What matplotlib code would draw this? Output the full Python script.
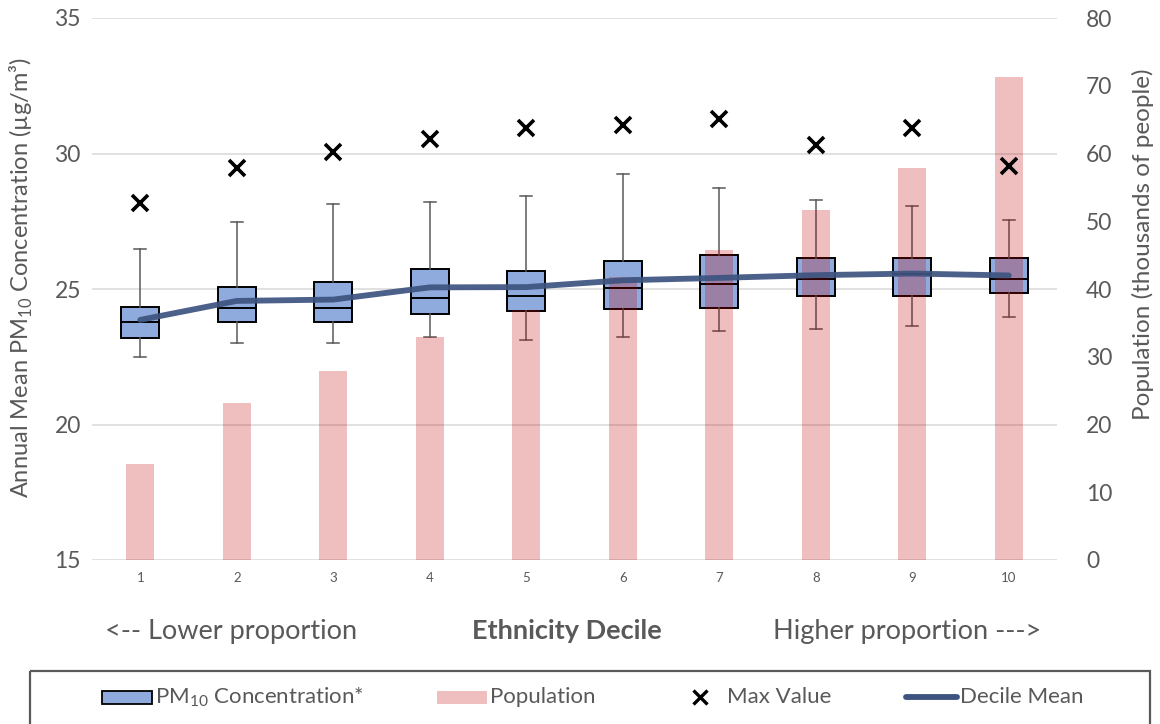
import numpy as np
import matplotlib

matplotlib.use("Agg")
import matplotlib.pyplot as plt
from matplotlib.patches import Rectangle
from matplotlib.lines import Line2D

plt.rcParams["font.family"] = ["Lato", "DejaVu Sans"]
plt.rcParams["mathtext.fontset"] = "custom"
plt.rcParams["mathtext.rm"] = "Lato"

# ---- data ----
deciles = [1, 2, 3, 4, 5, 6, 7, 8, 9, 10]
q1 = [23.20, 23.77, 23.77, 24.07, 24.17, 24.26, 24.31, 24.74, 24.74, 24.85]
median = [23.77, 24.30, 24.30, 24.65, 24.75, 25.04, 25.17, 25.36, 25.54, 25.36]
q3 = [24.35, 25.07, 25.27, 25.72, 25.67, 26.04, 26.25, 26.14, 26.14, 26.14]
whisker_lo = [22.48, 23.00, 23.00, 23.23, 23.13, 23.23, 23.44, 23.54, 23.65, 23.96]
whisker_hi = [26.48, 27.46, 28.14, 28.21, 28.43, 29.25, 28.73, 28.28, 28.07, 27.54]
max_value = [28.16, 29.45, 30.06, 30.53, 30.93, 31.06, 31.26, 30.32, 30.94, 29.54]
decile_mean = [23.86, 24.56, 24.61, 25.06, 25.07, 25.32, 25.41, 25.51, 25.57, 25.50]
population = [14.2, 23.1, 27.9, 32.9, 36.9, 41.8, 45.8, 51.6, 57.9, 71.3]  # thousands

GREY = "#595959"
BOX_BLUE = "#8FAADC"
BAR_RED = "#C00000"
LINE_BLUE = "#3D5380"

fig = plt.figure(figsize=(11.6, 7.24), dpi=100)
ax = fig.add_axes([92 / 1160, 1 - 560 / 724, (1057 - 92) / 1160, (560 - 18) / 724])

# boxes (left scale)
stats = [dict(med=m, q1=a, q3=b, whislo=lo, whishi=hi, fliers=[])
         for m, a, b, lo, hi in zip(median, q1, q3, whisker_lo, whisker_hi)]
ax.bxp(stats, positions=deciles, widths=0.39, capwidths=0.12, patch_artist=True,
       showfliers=False,
       boxprops=dict(facecolor=BOX_BLUE, edgecolor="black", linewidth=1.4),
       medianprops=dict(color="black", linewidth=1.4),
       whiskerprops=dict(color=GREY, linewidth=1.1),
       capprops=dict(color=GREY, linewidth=1.1))
ax.set_xlim(0.5, 10.5)
ax.set_ylim(15, 35)
ax.set_yticks([15, 20, 25, 30, 35])
ax.grid(True, axis="y", color="#D9D9D9", linewidth=1.1)
ax.set_axisbelow(True)
for s in ax.spines.values():
    s.set_visible(False)
ax.tick_params(axis="both", length=0, colors=GREY)
ax.tick_params(axis="y", labelsize=16.5, pad=8)
ax.tick_params(axis="x", labelsize=9.5, pad=9)
ax.set_xticks(deciles)
ax.set_xticklabels([str(d) for d in deciles])
ax.set_ylabel(r"Annual Mean PM$_{\mathregular{10}}$ Concentration (µg/m³)",
              fontsize=17, color=GREY)
ax.yaxis.set_label_coords(-0.059, 0.52)

# population bars (right scale), drawn over the boxes
ax2 = ax.twinx()
ax2.bar(deciles, population, width=0.29, color=BAR_RED, alpha=0.25, linewidth=0)
ax2.set_ylim(0, 80)
ax2.set_yticks(range(0, 81, 10))
for s in ax2.spines.values():
    s.set_visible(False)
ax2.tick_params(axis="y", length=0, colors=GREY, labelsize=16.5, pad=21)
ax2.set_ylabel("Population (thousands of people)", fontsize=17.5, color=GREY)
ax2.yaxis.set_label_coords(1.078, 0.583)

# mean line and max markers on top
ax3 = ax.twinx()
ax3.set_ylim(15, 35)
ax3.axis("off")
ax3.plot(deciles, decile_mean, color=LINE_BLUE, linewidth=4.2, alpha=0.92,
         solid_capstyle="round", solid_joinstyle="round")
ax3.plot(deciles, max_value, linestyle="none", marker="x", color="black",
         markersize=11, markeredgewidth=2.6)

# axis caption row
fig.text(231 / 1160, 1 - 631 / 724, "<-- Lower proportion", fontsize=19.5,
         color=GREY, ha="center", va="center")
fig.text(567 / 1160, 1 - 631 / 724, "Ethnicity Decile", fontsize=19.5,
         color=GREY, ha="center", va="center", fontweight="bold")
fig.text(907 / 1160, 1 - 631 / 724, "Higher proportion --->", fontsize=19.5,
         color=GREY, ha="center", va="center")

# legend strip (pixel coordinates)
lg = fig.add_axes([0, 0, 1, 54 / 724])
lg.set_xlim(0, 1160)
lg.set_ylim(54, 0)
lg.axis("off")
lg.add_patch(Rectangle((30, 1), 1120, 80, fill=False, edgecolor=GREY,
                       linewidth=1.6, clip_on=False))
ly = 27
fs = 16
lg.add_patch(Rectangle((102, ly - 6), 50, 13, facecolor=BOX_BLUE,
                       edgecolor="black", linewidth=1.3))
lg.text(155, ly, r"PM$_{\mathregular{10}}$ Concentration*", fontsize=fs,
        color=GREY, va="center", ha="left")
lg.add_patch(Rectangle((437, ly - 6), 50, 13, facecolor=BAR_RED, alpha=0.25,
                       linewidth=0))
lg.text(490, ly, "Population", fontsize=fs, color=GREY, va="center", ha="left")
lg.add_line(Line2D([700], [ly], marker="x", color="black", markersize=10,
                   markeredgewidth=2.4, linestyle="none"))
lg.text(727, ly, "Max Value", fontsize=fs, color=GREY, va="center", ha="left")
lg.add_line(Line2D([906, 957], [ly, ly], color=LINE_BLUE, linewidth=4.2,
                   solid_capstyle="round"))
lg.text(960, ly, "Decile Mean", fontsize=fs, color=GREY, va="center", ha="left")

fig.savefig("out.png", dpi=100)
